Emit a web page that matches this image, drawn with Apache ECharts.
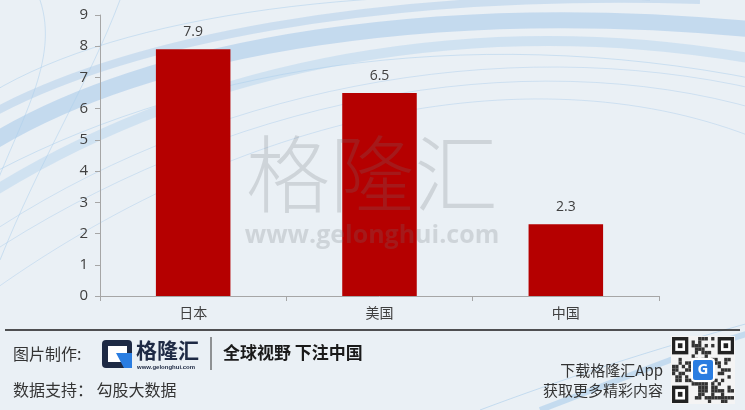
<!DOCTYPE html>
<html><head><meta charset="utf-8">
<script src="https://cdn.jsdelivr.net/npm/echarts@6/dist/echarts.min.js"></script>
<style>html,body{margin:0;padding:0;background:#eaf0f5;}#c{width:745px;height:410px;}</style>
</head><body><div id="c"></div>
<script>
const categories = ['日本', '美国', '中国'];
const values = [7.9, 6.5, 2.3];
const yTicks = [0, 1, 2, 3, 4, 5, 6, 7, 8, 9];

const chart = echarts.init(document.getElementById('c'));
const FONT = '"Noto Sans CJK SC", "Noto Sans", sans-serif';
const NUMFONT = '"Open Sans", "Noto Sans", sans-serif';

// decorative swirl lines in background
const swirls = [];
const swirlDefs = [
  [[-20,150],[150,40],[450,0],[760,30], 'rgba(150,190,230,0.45)', 16],
  [[-20,200],[200,60],[480,10],[760,60], 'rgba(160,200,235,0.35)', 10],
  [[-20,120],[120,40],[380,-10],[700,0], 'rgba(150,190,230,0.35)', 8],
  [[-20,240],[200,90],[500,30],[760,90], 'rgba(170,205,235,0.45)', 1],
  [[-20,260],[220,100],[520,40],[760,110], 'rgba(170,205,235,0.45)', 1],
  [[-20,300],[240,110],[540,50],[760,140], 'rgba(170,205,235,0.45)', 1],
  [[-20,180],[180,70],[460,20],[760,80], 'rgba(170,205,235,0.5)', 1],
  [[-20,100],[100,20],[350,-20],[650,0], 'rgba(170,205,235,0.5)', 1],
  [[40,0],[60,60],[20,120],[-10,200], 'rgba(170,205,235,0.5)', 1],
  [[120,0],[90,80],[40,160],[0,260], 'rgba(170,205,235,0.5)', 1],
  [[480,410],[560,380],[650,350],[760,320], 'rgba(170,205,235,0.6)', 1],
  [[540,410],[620,380],[690,350],[760,330], 'rgba(170,205,235,0.6)', 6]
];
swirlDefs.forEach(d => {
  swirls.push({type:'bezierCurve', silent:true, z:-10,
    shape:{x1:d[0][0],y1:d[0][1],cpx1:d[1][0],cpy1:d[1][1],cpx2:d[2][0],cpy2:d[2][1],x2:d[3][0],y2:d[3][1]},
    style:{stroke:d[4], lineWidth:d[5], fill:null}});
});

// QR-like decoration
const qr = [];
const qx = 672, qy = 337, n = 19, cw = 62 / n, ch = 66 / n;
let seed = 11;
function rnd(){ seed = (seed * 9301 + 49297) % 233280; return seed / 233280; }
qr.push({type:'rect', silent:true, shape:{x:qx-1, y:qy-1, width:64, height:68}, style:{fill:'#f4f4f4'}});
for (let i = 0; i < n; i++) for (let j = 0; j < n; j++) {
  const inFinder = (i < 6 && j < 6) || (i < 6 && j > n - 7) || (i > n - 7 && j < 6);
  if (inFinder) continue;
  if (rnd() < 0.5) qr.push({type:'rect', silent:true, shape:{x:qx+j*cw, y:qy+i*ch, width:cw, height:ch}, style:{fill:'#333'}});
}
[[0,0],[0,n-5],[n-5,0]].forEach(p => {
  const x = qx + p[1]*cw, y = qy + p[0]*ch;
  qr.push({type:'rect', silent:true, shape:{x:x, y:y, width:cw*5, height:ch*5}, style:{fill:'#222'}});
  qr.push({type:'rect', silent:true, shape:{x:x+cw, y:y+ch, width:cw*3, height:ch*3}, style:{fill:'#fff'}});
  qr.push({type:'rect', silent:true, shape:{x:x+cw*1.8, y:y+ch*1.8, width:cw*1.4, height:ch*1.4}, style:{fill:'#222'}});
});
qr.push({type:'rect', silent:true, shape:{x:qx+20, y:qy+22, width:22, height:22, r:3}, style:{fill:'#2a7de1', stroke:'#fff', lineWidth:2}});
qr.push({type:'text', silent:true, style:{text:'G', x:qx+31, y:qy+33, align:'center', verticalAlign:'middle', fill:'#fff', font:'bold 15px '+NUMFONT}});

chart.setOption({
  backgroundColor: '#eaf0f5',
  animation: false,
  grid: {left: 100, right: 86, top: 15, bottom: 114},
  xAxis: {
    type: 'category', data: categories,
    axisLine: {lineStyle: {color: '#a6a6a6', width: 1}},
    axisTick: {show: true, length: 5, lineStyle: {color: '#a6a6a6'}},
    axisLabel: {color: '#404040', fontSize: 14, margin: 10, fontFamily: FONT}
  },
  yAxis: {
    type: 'value', min: 0, max: 9, interval: 1,
    axisLine: {show: true, lineStyle: {color: '#a6a6a6', width: 1}},
    axisTick: {show: true, length: 5, lineStyle: {color: '#a6a6a6'}},
    splitLine: {show: false},
    axisLabel: {color: '#404040', fontSize: 15, margin: 12, fontFamily: NUMFONT,
      formatter: v => yTicks.includes(v) ? String(v) : ''}
  },
  series: [{
    type: 'bar', data: values, barWidth: '40%',
    itemStyle: {color: '#b50000'},
    label: {show: true, position: 'top', distance: 10, color: '#404040', fontSize: 14,
      fontFamily: NUMFONT, formatter: p => p.value.toFixed(1)}
  }],
  graphic: [
    ...swirls,
    // watermark (drawn over the bars, semi-transparent)
    {type:'text', silent:true, z:100, style:{text:'格隆汇', x:372, y:174, align:'center', verticalAlign:'middle', fill:'rgba(110,115,120,0.22)', font:'300 84px "Noto Sans CJK SC", sans-serif'}},
    {type:'text', silent:true, z:100, style:{text:'www.gelonghui.com', x:372, y:236, align:'center', verticalAlign:'middle', fill:'rgba(110,115,120,0.22)', font:'bold 25px "Open Sans", "Noto Sans", sans-serif'}},
    // footer separator
    {type:'line', silent:true, shape:{x1:5, y1:330, x2:740, y2:330}, style:{stroke:'#1a1a1a', lineWidth:1.5}},
    {type:'text', silent:true, style:{text:'图片制作:', x:13, y:354, verticalAlign:'middle', fill:'#333', font:'16px '+FONT}},
    // logo icon
    {type:'rect', silent:true, shape:{x:102, y:340, width:30, height:28, r:4}, style:{fill:'#1e2a44'}},
    {type:'rect', silent:true, shape:{x:108, y:346, width:19, height:16}, style:{fill:'#ffffff'}},
    {type:'polygon', silent:true, shape:{points:[[116,353],[132,353],[132,368],[124,368]]}, style:{fill:'#2a7de1'}},
    {type:'text', silent:true, style:{text:'格隆汇', x:136, y:350, verticalAlign:'middle', fill:'#1e2a44', font:'bold 21px '+FONT}},
    {type:'text', silent:true, style:{text:'www.gelonghui.com', x:137, y:367, verticalAlign:'middle', fill:'#1e2a44', font:'bold 6px sans-serif'}},
    {type:'line', silent:true, shape:{x1:211, y1:337, x2:211, y2:370}, style:{stroke:'#333', lineWidth:1}},
    {type:'text', silent:true, style:{text:'全球视野 下注中国', x:223, y:353, verticalAlign:'middle', fill:'#1a1a1a', font:'bold 17px '+FONT}},
    {type:'text', silent:true, style:{text:'数据支持： 勾股大数据', x:13, y:390, verticalAlign:'middle', fill:'#333', font:'16px '+FONT}},
    {type:'text', silent:true, style:{text:'下载格隆汇App', x:663, y:370, align:'right', verticalAlign:'middle', fill:'#333', font:'15px '+FONT}},
    {type:'text', silent:true, style:{text:'获取更多精彩内容', x:663, y:390, align:'right', verticalAlign:'middle', fill:'#333', font:'15px '+FONT}},
    ...qr
  ]
});
</script>
</body></html>
